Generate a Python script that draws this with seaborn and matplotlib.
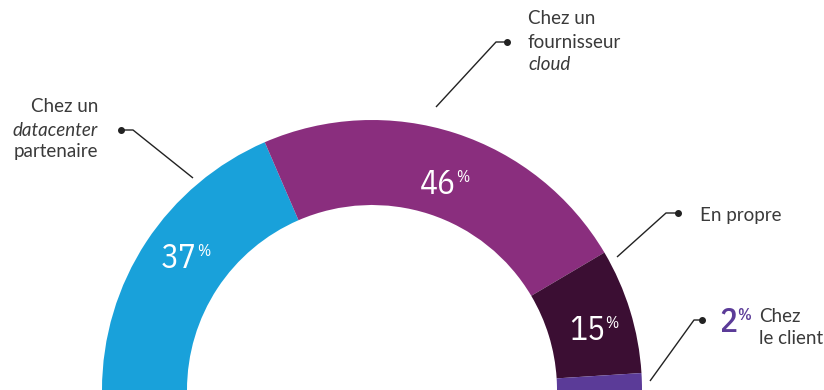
import numpy as np
import matplotlib
matplotlib.use("Agg")
import matplotlib.pyplot as plt
import seaborn as sns

# Hosting locations (share of respondents, %)
categories = ["Chez un datacenter partenaire", "Chez un fournisseur cloud",
              "En propre", "Chez le client"]
shares = [37, 46, 15, 2]
colors = ["#19A1DA", "#8A2E7E", "#3B0E33", "#5B3B98"]

sns.set_theme(style="white")
plt.rcParams["font.family"] = ["Lato", "DejaVu Sans"]

W, H = 824, 390
fig = plt.figure(figsize=(W / 100, H / 100), dpi=100)
ax = fig.add_axes([0, 0, 1, 1])

# half donut: shares over 200 so the whole set spans 180 degrees
cx, cy = 372, 0
r_out, ring = 270, 85
fracs = np.array(shares) / 200.0
wedges, _ = ax.pie(fracs, normalize=False, startangle=180, counterclock=False,
                   colors=colors, center=(cx, cy), radius=r_out,
                   wedgeprops=dict(width=ring, linewidth=0))
ax.set_xlim(0, W)
ax.set_ylim(0, H)
ax.set_aspect("equal")
ax.axis("off")

NUM_FONT = ["IBM Plex Sans Condensed", "DejaVu Sans"]


def value_label(x_end, y_mid, value, color, weight="normal"):
    """Tall narrow number with a small raised percent sign."""
    ax.text(x_end, H - y_mid, f"{value}", color=color, fontsize=24,
            family=NUM_FONT, fontweight=weight,
            ha="right", va="center_baseline")
    ax.text(x_end + 0.5, H - y_mid + 12.5, "%", color=color, fontsize=11.5,
            family=NUM_FONT, fontweight=weight, ha="left", va="top")


# percentage labels inside the ring
for (x, y), v in zip([(197, 255), (456, 180), (605, 327)], shares[:3]):
    value_label(x, y + 1, v, "white")

# leader lines: dot, short horizontal stub, then diagonal to the ring
leaders = [
    [(121, 130), (133, 130), (193, 178)],
    [(507, 42), (496, 42), (436, 107)],
    [(678, 213), (666, 213), (617, 257)],
    [(702, 320), (694, 320), (650, 381)],
]
for pts in leaders:
    xs = [p[0] for p in pts]
    ys = [H - p[1] for p in pts]
    ax.plot(xs, ys, color="#222222", lw=1.0, solid_capstyle="butt")
    ax.plot(xs[0], ys[0], "o", color="#222222", ms=4)

txt = dict(color="#3a3a3a", fontsize=13.5, fontweight="normal")
# datacenter label (right aligned)
ax.text(98, H - 107, "Chez un", ha="right", va="center", **txt)
ax.text(98, H - 130, "datacenter", ha="right", va="center", style="italic", **txt)
ax.text(98, H - 152, "partenaire", ha="right", va="center", **txt)
# cloud label
ax.text(528, H - 19, "Chez un", ha="left", va="center", **txt)
ax.text(528, H - 42, "fournisseur", ha="left", va="center", **txt)
ax.text(528, H - 65, "cloud", ha="left", va="center", style="italic", **txt)
# own infrastructure
ax.text(700, H - 215, "En propre", ha="left", va="center", **txt)
# client site, with its value outside the ring
value_label(737, 320, shares[3], colors[3], weight="medium")
ax.text(759, H - 316, "Chez", ha="left", va="center", **txt)
ax.text(759, H - 338, "le client", ha="left", va="center", **txt)

fig.savefig("out.png", dpi=100)
